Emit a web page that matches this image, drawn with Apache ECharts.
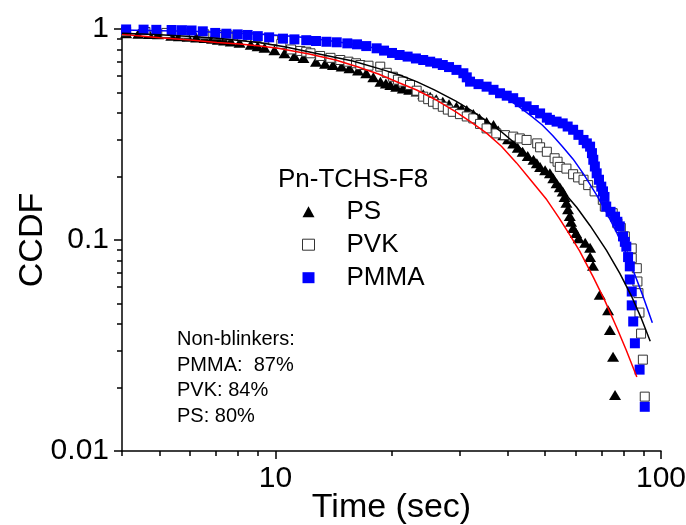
<!DOCTYPE html>
<html><head><meta charset="utf-8">
<script src="https://cdn.jsdelivr.net/npm/echarts@6/dist/echarts.min.js"></script>
<style>html,body{margin:0;padding:0;background:#fff}#c{width:686px;height:525px}</style>
</head><body><div id="c"></div>
<script>
// ---- data (time in sec, CCDF) ----
const psData = [[4.10,0.955],[4.41,0.95],[4.70,0.947],[4.96,0.944],[5.37,0.93],[5.62,0.925],[5.92,0.918],[6.23,0.912],[6.55,0.906],[6.85,0.898],[7.09,0.89],[7.36,0.882],[7.66,0.872],[8.07,0.86],[8.63,0.842],[8.99,0.828],[9.37,0.814],[9.94,0.792],[10.56,0.768],[11.2,0.745],[11.82,0.728],[12.74,0.70],[13.45,0.685],[14.1,0.675],[14.85,0.665],[15.56,0.651],[16.38,0.635],[17.2,0.617],[17.94,0.59],[18.72,0.563],[19.34,0.552],[19.86,0.543],[20.57,0.533],[21.4,0.523],[22.23,0.515],[23.24,0.505],[24.17,0.49],[25.2,0.478],[26.13,0.465],[27.17,0.452],[28.2,0.44],[29.48,0.428],[30.41,0.42],[31.35,0.413],[32.6,0.395],[33.84,0.377],[35.29,0.362],[36.78,0.351],[37.82,0.33],[38.97,0.314],[40.12,0.30],[41.37,0.287],[42.51,0.274],[43.76,0.262],[45.12,0.25],[46.7,0.24],[47.64,0.231],[48.58,0.222],[50.05,0.214],[51.51,0.207],[52.56,0.196],[53.6,0.186],[54.65,0.178],[55.6,0.17],[56.22,0.16],[56.85,0.15],[57.4,0.14],[58.0,0.13],[58.45,0.122],[59.17,0.114],[60.22,0.108],[61.17,0.102],[63.59,0.097],[65.48,0.092],[65.48,0.083],[66.63,0.0755],[69.37,0.055],[72.9,0.0465],[73.7,0.0375],[75.1,0.028],[76.0,0.0184]];
const pvkData = [[4.1,0.975],[4.6,0.968],[5.21,0.958],[5.82,0.95],[6.54,0.943],[7.05,0.938],[7.52,0.932],[8.18,0.925],[8.89,0.915],[9.42,0.9],[9.87,0.885],[10.36,0.85],[10.98,0.80],[11.61,0.787],[12.02,0.78],[12.33,0.767],[13.06,0.745],[13.89,0.73],[14.73,0.713],[15.46,0.70],[16.18,0.688],[16.6,0.675],[17.43,0.67],[18.7,0.663],[19.44,0.62],[20.16,0.594],[20.78,0.575],[21.4,0.563],[22.34,0.543],[23.24,0.51],[24.17,0.478],[24.9,0.465],[25.62,0.452],[26.34,0.44],[27.17,0.428],[28.0,0.415],[28.84,0.405],[30.1,0.395],[31.35,0.385],[32.6,0.377],[33.94,0.355],[35.29,0.338],[37.4,0.32],[39.39,0.314],[41.37,0.309],[43.03,0.303],[44.81,0.298],[47.74,0.287],[48.58,0.275],[50.57,0.262],[52.98,0.244],[53.92,0.235],[54.65,0.222],[56.85,0.218],[59.17,0.205],[60.96,0.198],[62.96,0.193],[64.74,0.182],[67.26,0.17],[70.64,0.155],[71.49,0.144],[74.94,0.134],[77.06,0.12],[78.65,0.114],[80.57,0.104],[83.97,0.0912],[83.97,0.082],[86.55,0.0735],[86.87,0.0636],[87.4,0.056],[87.93,0.0453],[88.78,0.036],[89.74,0.0271],[90.76,0.0181]];
const pmmaData = [[4.1,0.995],[4.55,0.993],[4.91,0.991],[5.38,0.989],[5.72,0.987],[6.06,0.984],[6.48,0.975],[6.98,0.958],[7.46,0.95],[7.98,0.943],[8.47,0.937],[9.0,0.925],[9.63,0.913],[10.46,0.90],[11.2,0.893],[12.02,0.885],[12.74,0.877],[13.56,0.87],[14.42,0.865],[15.36,0.855],[16.28,0.846],[17.2,0.83],[18.3,0.81],[19.13,0.79],[20.06,0.77],[20.99,0.753],[22.02,0.74],[23.14,0.725],[24.17,0.713],[25.2,0.70],[26.24,0.688],[27.17,0.675],[28.2,0.66],[29.48,0.64],[30.72,0.617],[31.35,0.59],[31.97,0.563],[33.63,0.548],[35.29,0.533],[36.78,0.515],[38.24,0.496],[39.8,0.483],[41.37,0.47],[43.03,0.45],[44.81,0.43],[46.8,0.413],[48.58,0.398],[50.57,0.38],[51.51,0.371],[53.6,0.364],[55.6,0.357],[57.27,0.345],[59.17,0.333],[61.06,0.315],[62.96,0.298],[64.22,0.287],[65.48,0.277],[66.21,0.258],[66.74,0.24],[67.37,0.223],[68.1,0.207],[69.05,0.193],[70.0,0.179],[70.73,0.17],[71.36,0.16],[72.1,0.144],[74.0,0.136],[76.0,0.129],[77.06,0.122],[78.2,0.116],[79.7,0.104],[80.57,0.098],[81.3,0.093],[82.15,0.083],[83.0,0.075],[83.0,0.065],[83.97,0.057],[83.97,0.049],[84.71,0.0411],[85.56,0.0324],[88.0,0.0243],[90.76,0.0162]];
const psFit = [[4.0,0.944],[5.01,0.91],[6.03,0.887],[7.05,0.863],[8.07,0.849],[9.13,0.83],[10.15,0.81],[12.23,0.761],[14.33,0.713],[16.38,0.66],[18.5,0.612],[20.99,0.555],[23.24,0.514],[25.83,0.466],[29.38,0.405],[32.18,0.362],[35.29,0.321],[38.55,0.278],[42.2,0.232],[45.85,0.193],[50.57,0.155],[54.44,0.127],[58.0,0.1057],[61.48,0.0888],[66.63,0.067],[71.6,0.0513],[76.86,0.0383],[81.28,0.030],[86.55,0.0224]];
const pvkFit = [[4.0,0.955],[5.01,0.94],[6.03,0.922],[7.05,0.903],[8.07,0.882],[9.13,0.86],[10.56,0.824],[13.25,0.755],[15.87,0.705],[19.03,0.64],[20.99,0.605],[23.24,0.563],[25.83,0.515],[29.38,0.455],[32.18,0.4115],[35.29,0.3666],[38.55,0.3257],[42.2,0.2832],[45.85,0.2461],[51.51,0.2001],[55.49,0.1718],[60.43,0.1429],[65.48,0.1169],[72.22,0.0893],[78.2,0.0695],[83.76,0.0544],[88.92,0.0425],[93.77,0.0331]];
const pmmaFit = [[4.0,0.988],[5.01,0.982],[6.03,0.975],[7.05,0.965],[8.07,0.955],[9.13,0.945],[10.15,0.935],[11.41,0.92],[13.25,0.89],[15.36,0.855],[17.94,0.815],[20.57,0.77],[23.76,0.72],[26.86,0.67],[30.1,0.62],[33.22,0.565],[36.33,0.515],[39.6,0.47],[42.72,0.43],[45.85,0.3897],[49.21,0.3508],[52.35,0.313],[55.49,0.2777],[59.17,0.2416],[63.06,0.2046],[68.1,0.163],[72.22,0.1351],[76.72,0.1085],[80.68,0.0886],[84.71,0.0717],[89.9,0.0539],[94.96,0.0405]];
const xMajorTicks = [10, 100];
const xMinorTicks = [4, 5, 6, 7, 8, 9, 20, 30, 40, 50, 60, 70, 80, 90];
const yMajorTicks = [0.01, 0.1, 1];
const yMinorTicks = [0.02, 0.03, 0.04, 0.05, 0.06, 0.07, 0.08, 0.09, 0.2, 0.3, 0.4, 0.5, 0.6, 0.7, 0.8, 0.9];
const legendTitle = 'Pn-TCHS-F8';
const noteLines = ['Non-blinkers:', 'PMMA:  87%', 'PVK: 84%', 'PS: 80%'];

const FONT = "'Liberation Sans', Arial, Helvetica, sans-serif";
const chart = echarts.init(document.getElementById('c'), null, {renderer: 'canvas'});
const fmt = v => String(+(+v).toPrecision(3));
const axisCommon = {type: 'log', logBase: 10, splitLine: {show: false}, minorTick: {show: false}, nameMoveOverlap: false};
const lineCol = {color: '#000', width: 1.5};

chart.setOption({
  animation: false,
  backgroundColor: '#fff',
  grid: {left: 122, right: 25, top: 29, bottom: 74, containLabel: false, outerBoundsMode: 'none'},
  title: [
    {text: legendTitle, left: 278, top: 167, padding: 0,
     textStyle: {fontFamily: FONT, fontSize: 26, fontWeight: 'normal', color: '#000', lineHeight: 26}},
    {text: noteLines.join('\n'), left: 177, top: 327, padding: 0,
     textStyle: {fontFamily: FONT, fontSize: 20, fontWeight: 'normal', color: '#000', lineHeight: 25.5}}
  ],
  legend: {
    orient: 'vertical', left: 302, top: 198.7, padding: 0,
    itemWidth: 12, itemHeight: 11, itemGap: 7, selectedMode: false, symbolKeepAspect: true,
    textStyle: {fontFamily: FONT, fontSize: 26, color: '#000', lineHeight: 26, padding: [0, 0, 0, 27]},
    data: [
      {name: 'PS', icon: 'triangle', itemStyle: {color: '#000', opacity: 1}},
      {name: 'PVK', icon: 'rect', itemStyle: {color: '#fff', borderColor: '#333', borderWidth: 1, opacity: 1}},
      {name: 'PMMA', icon: 'rect', itemStyle: {color: '#0000ff', opacity: 1}}
    ]
  },
  xAxis: [
    Object.assign({}, axisCommon, {
      min: 4, max: 100, position: 'bottom',
      axisLine: {show: true, lineStyle: lineCol},
      axisTick: {show: true, customValues: xMajorTicks, length: 8, lineStyle: lineCol},
      axisLabel: {show: true, customValues: xMajorTicks, formatter: fmt, margin: 13,
                  fontFamily: FONT, fontSize: 30, color: '#000'},
      name: 'Time (sec)', nameLocation: 'middle', nameGap: 40,
      nameTextStyle: {fontFamily: FONT, fontSize: 34, color: '#000'}
    }),
    Object.assign({}, axisCommon, {
      min: 4, max: 100, position: 'bottom', gridIndex: 0,
      axisLine: {show: false},
      axisTick: {show: true, customValues: xMinorTicks, length: 5, lineStyle: lineCol},
      axisLabel: {show: false}
    })
  ],
  yAxis: [
    Object.assign({}, axisCommon, {
      min: 0.01, max: 1, position: 'left',
      axisLine: {show: true, lineStyle: lineCol},
      axisTick: {show: true, customValues: yMajorTicks, length: 8, lineStyle: lineCol},
      axisLabel: {show: true, customValues: yMajorTicks, formatter: fmt, margin: 13,
                  fontFamily: FONT, fontSize: 30, color: '#000'},
      name: 'CCDF', nameLocation: 'middle', nameGap: 72, nameRotate: 90,
      nameTextStyle: {fontFamily: FONT, fontSize: 34, color: '#000'}
    }),
    Object.assign({}, axisCommon, {
      min: 0.01, max: 1, position: 'left', gridIndex: 0,
      axisLine: {show: false},
      axisTick: {show: true, customValues: yMinorTicks, length: 5, lineStyle: lineCol},
      axisLabel: {show: false}
    })
  ],
  series: [
    {name: 'PS', type: 'scatter', data: psData, symbol: 'triangle', symbolSize: [12, 10],
     itemStyle: {color: '#000', opacity: 1}, z: 2},
    {name: 'PVK', type: 'scatter', data: pvkData, symbol: 'rect', symbolSize: 9,
     itemStyle: {color: '#fff', borderColor: '#333', borderWidth: 1, opacity: 1}, z: 2},
    {name: 'PMMA', type: 'scatter', data: pmmaData, symbol: 'rect', symbolSize: 10,
     itemStyle: {color: '#0000ff', opacity: 1}, z: 2},
    {name: 'PS fit', type: 'line', data: psFit, showSymbol: false, symbol: 'none', smooth: false,
     lineStyle: {color: '#ff0000', width: 1.5}, z: 3},
    {name: 'PVK fit', type: 'line', data: pvkFit, showSymbol: false, symbol: 'none', smooth: false,
     lineStyle: {color: '#000', width: 1.5}, z: 3},
    {name: 'PMMA fit', type: 'line', data: pmmaFit, showSymbol: false, symbol: 'none', smooth: false,
     lineStyle: {color: '#0000ff', width: 1.5}, z: 3}
  ]
});
</script>
</body></html>
